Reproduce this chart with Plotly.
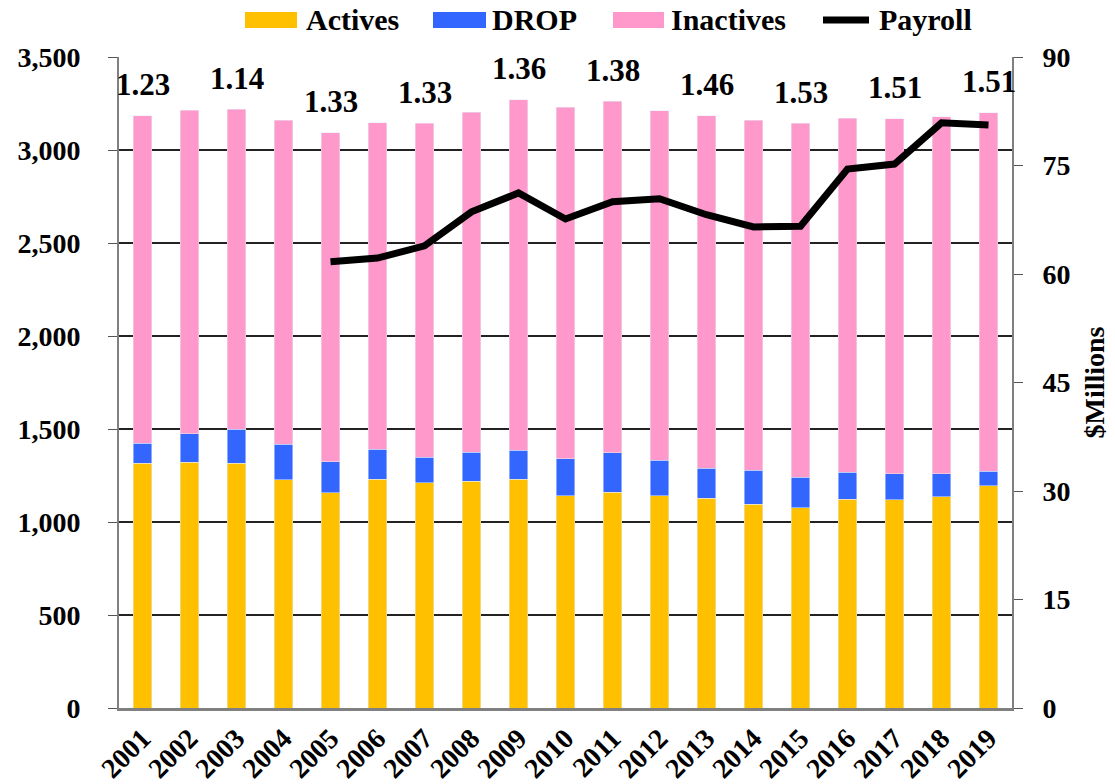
import plotly.graph_objects as go

years = [str(y) for y in range(2001, 2020)]
actives = [1317, 1322, 1317, 1228, 1158, 1231, 1210, 1220, 1231, 1140,
           1161, 1140, 1127, 1095, 1077, 1122, 1120, 1136, 1194]
drop_tops = [1423, 1475, 1500, 1418, 1323, 1392, 1349, 1375, 1387, 1339,
             1373, 1331, 1290, 1278, 1240, 1267, 1260, 1260, 1274]
totals = [3183, 3215, 3219, 3160, 3093, 3147, 3145, 3204, 3269, 3231,
          3263, 3210, 3183, 3161, 3143, 3170, 3167, 3179, 3200]
drop = [d - a for d, a in zip(drop_tops, actives)]
inactives = [t - d for t, d in zip(totals, drop_tops)]
payroll = [None, None, None, None, 61.7, 62.2, 63.9, 68.6, 71.2, 67.6,
           70.0, 70.4, 68.2, 66.5, 66.6, 74.5, 75.2, 80.9, 80.6]
ratio_years = ["2001", "2003", "2005", "2007", "2009", "2011", "2013", "2015", "2017", "2019"]
ratios = ["1.23", "1.14", "1.33", "1.33", "1.36", "1.38", "1.46", "1.53", "1.51", "1.51"]

FONT = "Liberation Serif"
C_ACT, C_DROP, C_INA = "#FFC000", "#3366FF", "#FF99CC"

fig = go.Figure()
fig.add_trace(go.Bar(x=years, y=actives, name="Actives", marker_color=C_ACT))
fig.add_trace(go.Bar(x=years, y=drop, name="DROP", marker_color=C_DROP))
fig.add_trace(go.Bar(x=years, y=inactives, name="Inactives", marker_color=C_INA))
fig.add_trace(go.Scatter(x=years, y=payroll, name="Payroll", mode="lines", yaxis="y2",
                         line=dict(color="black", width=7), connectgaps=False))

for yr, r in zip(ratio_years, ratios):
    idx = years.index(yr)
    fig.add_annotation(x=idx, y=totals[idx], text="<b>%s</b>" % r, showarrow=False,
                       yanchor="middle", yshift=31, font=dict(family=FONT, size=31, color="black"))

# custom legend (paper coordinates)
L, W, T, H = 119, 893, 57, 651
def px(x):
    return (x - L) / W
def py(y):
    return (T + H - y) / H
legend_items = [("Actives", C_ACT, 245, 297, 304, "bar"),
                ("DROP", C_DROP, 433, 486, 490, "bar"),
                ("Inactives", C_INA, 613, 664, 669, "bar"),
                ("Payroll", "black", 820, 872, 877, "line")]
for name, col, x0, x1, tx, kind in legend_items:
    if kind == "bar":
        fig.add_shape(type="rect", xref="paper", yref="paper", x0=px(x0), x1=px(x1),
                      y0=py(28), y1=py(12), fillcolor=col, line=dict(width=0), layer="above")
    else:
        fig.add_shape(type="line", xref="paper", yref="paper", x0=px(x0 + 3), x1=px(x1 - 3),
                      y0=py(20), y1=py(20), line=dict(color=col, width=7), layer="above")
    fig.add_annotation(xref="paper", yref="paper", x=px(tx), y=py(20), xanchor="left",
                       yanchor="middle", showarrow=False, text="<b>%s</b>" % name,
                       font=dict(family=FONT, size=30, color="black"))

fig.update_layout(
    barmode="stack",
    bargap=0.596,
    width=1115, height=784,
    margin=dict(l=119, r=103, t=57, b=76, autoexpand=False),
    plot_bgcolor="white", paper_bgcolor="white",
    font=dict(family=FONT, size=28, color="black", weight="bold"),
    showlegend=False,
    xaxis=dict(type="category", range=[-0.5, len(years) - 0.5], autorange=False,
               tickangle=-45, tickfont=dict(size=28, family=FONT, weight="bold"),
               showline=True, linecolor="#808080", linewidth=2.5, ticks="",
               showgrid=False, automargin=False),
    yaxis=dict(range=[0, 3500], dtick=500, tickformat=",d", showgrid=True,
               gridcolor="#222222", gridwidth=1.5, showline=True, linecolor="#808080",
               linewidth=2, ticks="outside", ticklen=9, tickcolor="#555555",
               ticklabelstandoff=22, zeroline=False, automargin=False,
               tickfont=dict(size=28, family=FONT, weight="bold")),
    yaxis2=dict(range=[0, 90], dtick=15, overlaying="y", side="right", showgrid=False,
                showline=True, linecolor="#808080", linewidth=2, ticks="outside",
                ticklen=9, tickcolor="#555555", ticklabelstandoff=14, zeroline=False,
                automargin=False,
                tickfont=dict(size=28, family=FONT, weight="bold"),
                title=dict(text="$Millions", standoff=15,
                           font=dict(size=28, family=FONT, weight="bold"))),
)

fig.write_html("out.html", config={"displayModeBar": False},
               post_script="document.body.style.margin='0';")
